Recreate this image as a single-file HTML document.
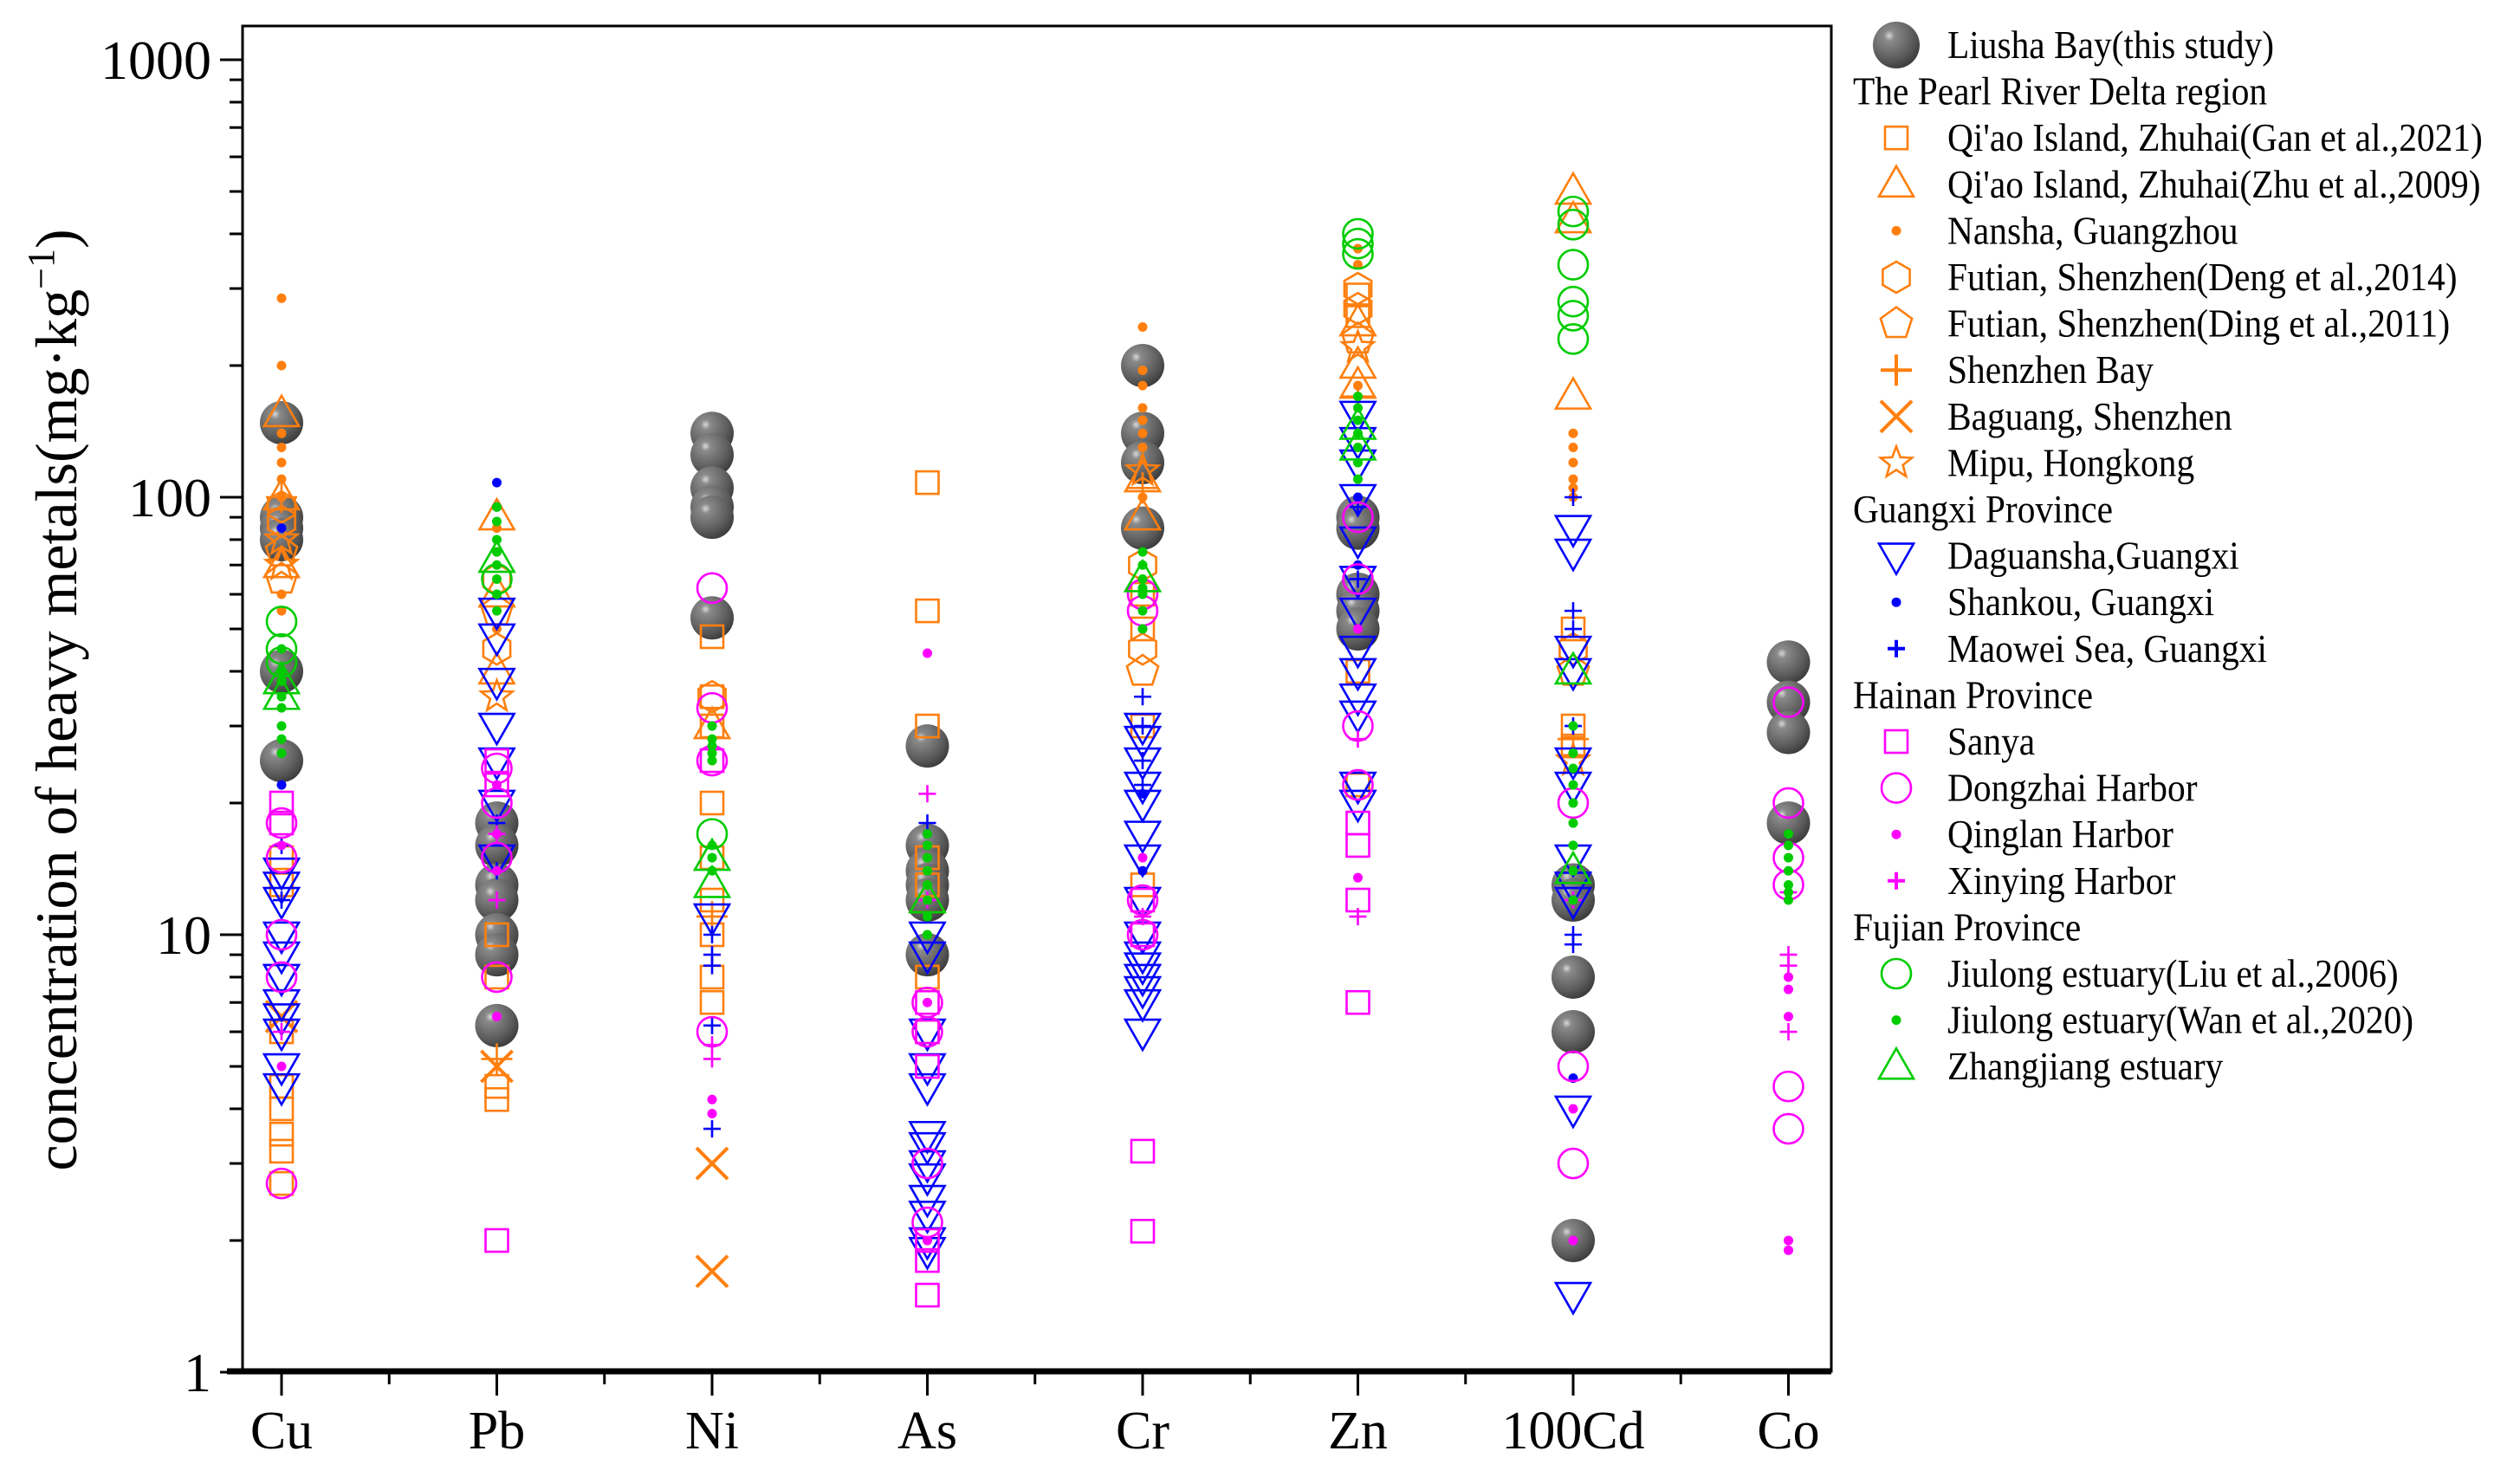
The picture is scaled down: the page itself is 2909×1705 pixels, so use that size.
<!DOCTYPE html>
<html><head><meta charset="utf-8"><style>
html,body{margin:0;padding:0;background:#fff;width:2909px;height:1705px;overflow:hidden}
svg{display:block}
svg text{font-family:"Liberation Serif","DejaVu Serif","Times New Roman",serif;fill:#000}
</style></head><body>
<svg id="chart" width="2909" height="1705" viewBox="0 0 2909 1705" xmlns="http://www.w3.org/2000/svg" font-family="Liberation Serif, DejaVu Serif, serif">
<defs>
<radialGradient id="ball" cx="0.35" cy="0.3" r="0.75">
<stop offset="0" stop-color="#d8d8d8"/><stop offset="0.15" stop-color="#8a8a8a"/><stop offset="0.7" stop-color="#5a5a5a"/><stop offset="1" stop-color="#3a3a3a"/>
</radialGradient>
</defs>
<g id="marks"></g>
<g id="axes"></g>
<g id="legend"></g>
</svg>
<script>
const categories = ["Cu","Pb","Ni","As","Cr","Zn","100Cd","Co"];
const yTickLabels = ["1","10","100","1000"];
const seriesNames = ["Liusha Bay(this study)","Qi'ao Island, Zhuhai(Gan et al.,2021)","Qi'ao Island, Zhuhai(Zhu et al.,2009)","Nansha, Guangzhou","Futian, Shenzhen(Deng et al.,2014)","Futian, Shenzhen(Ding et al.,2011)","Shenzhen Bay","Baguang, Shenzhen","Mipu, Hongkong","Daguansha,Guangxi","Shankou, Guangxi","Maowei Sea, Guangxi","Sanya","Dongzhai Harbor","Qinglan Harbor","Xinying Harbor","Jiulong estuary(Liu et al.,2006)","Jiulong estuary(Wan et al.,2020)","Zhangjiang estuary"];
const seriesShapes = ["ball","square","triangle","dot","hexagon","pentagon","plus","cross","star","dtriangle","dot","plus","square","circle","dot","plus","circle","dot","triangle"];
const seriesColors = ["#555","#ff7f0e","#ff7f0e","#ff7f0e","#ff7f0e","#ff7f0e","#ff7f0e","#ff7f0e","#ff7f0e","#0000ff","#0000ff","#0000ff","#ff00ff","#ff00ff","#ff00ff","#ff00ff","#00cc00","#00cc00","#00cc00"];
// values per series: [Cu, Pb, Ni, As, Cr, Zn, 100Cd, Co]
const liusha = [[148,90,85,80,40,25],[18,16,13,12,10,9,6.2],[140,125,105,95,90,53],[27,16,14,13,12,9],[200,140,120,85],[90,85,60,55,50],[13,12,8,6,2],[42,34,29,18]];
const qiaoGan = [[13,15,6,4.5,4,3.5,3.2,2.7],[10,8,4.5,4.2],[48,35,30,20,15,12,10,8,7],[108,55,30,15,13,8,6],[60,50,30,13],[290,260,40,22],[50,30,27],[]];
const qiaoZhu = [[155,100,70],[90,60,40],[30],[12],[110,90],[250,200,180],[500,430,170],[]];
const nansha = [[285,200,140,130,120,110,100,60,55],[85,75,50],[25],[15,13],[245,195,180,160,150,140,130,100],[370,340,180,170],[140,130,120,110,105,100],[]];
const futianDeng = [[95,88],[65,45],[35],[],[70,45],[300,270],[45],[]];
const futianDing = [[75,65],[55],[],[],[40],[230],[40],[]];
const shenzhenBay = [[100],[5.2],[11],[],[105],[170],[28],[]];
const baguang = [[6.5],[5],[3.0,1.7],[],[],[],[],[]];
const mipu = [[80,70],[35],[],[],[115],[220],[25],[]];
const daguansha = [[14,13,12,10,9,8,7,6.5,6,5,4.5],[55,48,38,30,25,20,15],[11],[10,9,6,5,4.5,3.5,3.3,3,2.8,2.5,2.3,2,1.9],[30,28,25,22,20,17,15,12,10,9,8.5,8,7.5,7,6],[155,135,120,100,80,65,55,45,40,35,32,22,20],[85,75,45,40,25,22,15,13,12,4,1.5],[]];
const shankou = [[85,22],[108,95],[],[17],[21,14],[100,70],[4.7],[]];
const maowei = [[16,12],[18,14],[10,9,8.5,6.2,3.6],[18],[35,30,25,22],[95,65],[100,55,50,30,10,9.5],[]];
const sanya = [[20,18],[25,22,2],[25],[7,6,5,2,1.8,1.5],[12,10,3.2,2.1],[18,16,12,7],[],[]];
const dongzhai = [[18,15,10,8,2.7],[24,20,15,8],[62,33,25,6],[7,6,3,2.2],[60,55,12,10],[90,65,30,22],[20,5,3],[34,20,15,13,4.5,3.6]];
const qinglan = [[16,5],[22,17,14,6.5],[4.2,3.9],[44,7,2],[50,15],[50,13.5],[4,2],[8,7.5,6.5,2,1.9]];
const xinying = [[6],[17,12],[5.6,5.2],[21,12],[11],[28,11],[12],[12.5,9,8.5,6]];
const jiulongLiu = [[52,45,42],[65],[17],[],[],[400,380,360],[450,420,340,280,260,230],[]];
const jiulongWan = [[45,40,38,35,33,30,28,26],[95,88,80,75,70,65,60,55],[30,28,27,26,25,16,15,14],[17,16,15,14,13,12,11,10],[75,70,65,62,60,55,50],[170,160,150,140,130,120,110],[30,26,24,22,20,18,16,14,12],[17,16,15,14,13,12.5,12]];
const zhangjiang = [[38,35],[72],[15,13],[12],[65],[145,130],[40,14],[]];
const allSeries = [liusha,qiaoGan,qiaoZhu,nansha,futianDeng,futianDing,shenzhenBay,baguang,mipu,daguansha,shankou,maowei,sanya,dongzhai,qinglan,xinying,jiulongLiu,jiulongWan,zhangjiang];

const NS="http://www.w3.org/2000/svg";
const FONT="Liberation Serif, DejaVu Serif, serif";
const L=280,R=2114,T=30,B=1583;
const X0=325, DX=248.5;
function xScale(i){return X0+i*DX;}
function yScale(v){return 1584-505*Math.log10(v);}
function mk(tag,attrs,parent){const e=document.createElementNS(NS,tag);for(const k in attrs)e.setAttribute(k,attrs[k]);parent.appendChild(e);return e;}

function drawMarker(g,shape,color,x,y,big){
  const sw=2.6;
  let e;
  if(shape==="ball"){e=mk("circle",{cx:x,cy:y,r:big?27:25,fill:"url(#ball)"},g);}
  else if(shape==="square"){e=mk("rect",{x:x-13,y:y-13,width:26,height:26,fill:"none",stroke:color,"stroke-width":sw},g);}
  else if(shape==="triangle"){e=mk("polygon",{points:`${x},${y-21} ${x-20},${y+14} ${x+20},${y+14}`,fill:"none",stroke:color,"stroke-width":sw},g);}
  else if(shape==="dtriangle"){e=mk("polygon",{points:`${x},${y+21} ${x-20},${y-14} ${x+20},${y-14}`,fill:"none",stroke:color,"stroke-width":sw},g);}
  else if(shape==="dot"){e=mk("circle",{cx:x,cy:y,r:5.5,fill:color},g);}
  else if(shape==="circle"){e=mk("circle",{cx:x,cy:y,r:17,fill:"none",stroke:color,"stroke-width":sw},g);}
  else if(shape==="hexagon"){let p=[];for(let k=0;k<6;k++){const a=Math.PI/2+k*Math.PI/3;p.push((x+18*Math.cos(a)).toFixed(1)+","+(y+18*Math.sin(a)).toFixed(1));}e=mk("polygon",{points:p.join(" "),fill:"none",stroke:color,"stroke-width":sw},g);}
  else if(shape==="pentagon"){let p=[];for(let k=0;k<5;k++){const a=-Math.PI/2+k*2*Math.PI/5;p.push((x+19*Math.cos(a)).toFixed(1)+","+(y+19*Math.sin(a)).toFixed(1));}e=mk("polygon",{points:p.join(" "),fill:"none",stroke:color,"stroke-width":sw},g);}
  else if(shape==="plus"){const s=color==="#ff7f0e"?18:10;e=mk("path",{d:`M${x-s},${y}H${x+s}M${x},${y-s}V${y+s}`,stroke:color,"stroke-width":big?4:2.6,fill:"none"},g);}
  else if(shape==="cross"){e=mk("path",{d:`M${x-18},${y-18}L${x+18},${y+18}M${x+18},${y-18}L${x-18},${y+18}`,stroke:color,"stroke-width":4,fill:"none"},g);}
  else if(shape==="star"){let p=[];for(let k=0;k<10;k++){const a=-Math.PI/2+k*Math.PI/5;const r=k%2?8:19;p.push((x+r*Math.cos(a)).toFixed(1)+","+(y+r*Math.sin(a)).toFixed(1));}e=mk("polygon",{points:p.join(" "),fill:"none",stroke:color,"stroke-width":sw},g);}
  return e;
}

const marks=document.getElementById("marks");
allSeries.forEach((ser,si)=>{
  const g=mk("g",{},marks);
  
  
  ser.forEach((vals,ci)=>{
    vals.forEach(v=>{
      const m=drawMarker(g,seriesShapes[si],seriesColors[si],xScale(ci),yScale(v),false);
      
      
    });
  });
});

// axes
const ax=document.getElementById("axes");
mk("rect",{x:L,y:T,width:R-L,height:B-T,fill:"none",stroke:"#000","stroke-width":3},ax);
mk("line",{x1:262,y1:B,x2:R,y2:B,stroke:"#000","stroke-width":7},ax);
yTickLabels.forEach((lab,i)=>{
  const v=Math.pow(10,i);const y=yScale(v);
  mk("line",{x1:L-26,y1:y,x2:L,y2:y,stroke:"#000","stroke-width":3},ax);
  const t=mk("text",{x:L-36,y:y+22,"font-size":64,"text-anchor":"end","font-family":FONT},ax);
  t.textContent=lab;
  
  
  if(i<3){for(let k=2;k<10;k++){const yy=yScale(v*k);mk("line",{x1:L-15,y1:yy,x2:L,y2:yy,stroke:"#000","stroke-width":3},ax);}}
});
categories.forEach((c,i)=>{
  const x=xScale(i);
  mk("line",{x1:x,y1:B,x2:x,y2:B+28,stroke:"#000","stroke-width":3},ax);
  if(i<categories.length-1) mk("line",{x1:x+DX/2,y1:B,x2:x+DX/2,y2:B+15,stroke:"#000","stroke-width":3},ax);
  const t=mk("text",{x:x,y:1672,"font-size":62,"text-anchor":"middle","font-family":FONT},ax);
  t.textContent=c;
  
  
});
const yl=mk("text",{x:0,y:0,"font-size":68,"text-anchor":"middle","font-family":FONT,transform:"translate(88,808) rotate(-90)"},ax);


yl.innerHTML='concentration of heavy metals(mg·kg<tspan dy="-26" font-size="44">−1</tspan><tspan dy="26">)</tspan>';

// legend
const lg=document.getElementById("legend");
const legendRows=[[0],["The Pearl River Delta region"],[1],[2],[3],[4],[5],[6],[7],[8],["Guangxi Province"],[9],[10],[11],["Hainan Province"],[12],[13],[14],[15],["Fujian Province"],[16],[17],[18]];
legendRows.forEach((row,i)=>{
  const y=52+i*53.6;
  const v=row[0];
  if(typeof v==="string"){
    const t=mk("text",{x:0,y:0,"font-size":46,"font-family":FONT,transform:`translate(2139,${y+15}) scale(0.9,1)`},lg);
    t.textContent=v;
    
    
  } else {
    const g=mk("g",{},lg);
    
    
    drawMarker(g,seriesShapes[v],seriesColors[v],2189,y,true);
    const t=mk("text",{x:0,y:0,"font-size":46,"font-family":FONT,transform:`translate(2248,${y+15}) scale(0.9,1)`},g);
    t.textContent=seriesNames[v];
  }
});
</script>
</body></html>
